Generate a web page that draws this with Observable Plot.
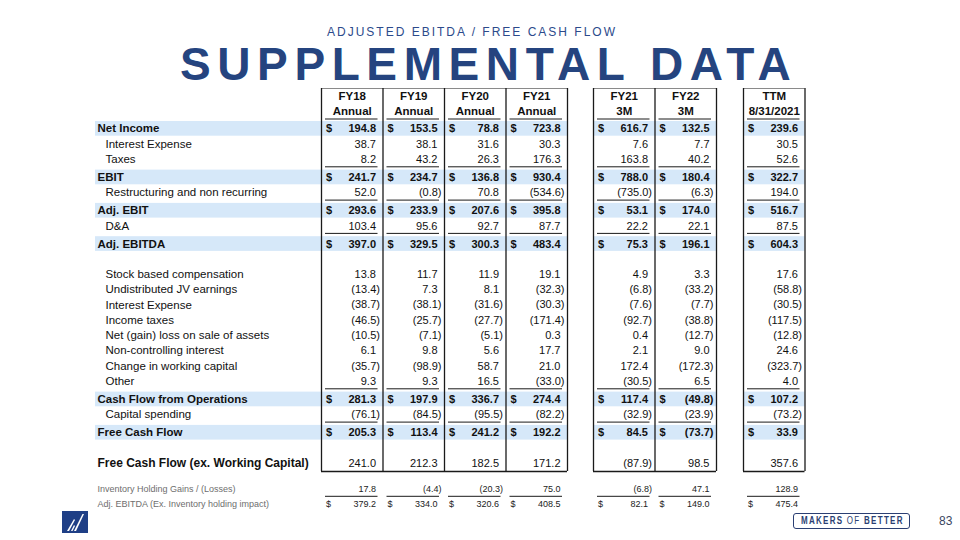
<!DOCTYPE html>
<html>
<head>
<meta charset="utf-8">
<script src="https://cdn.jsdelivr.net/npm/d3@7"></script>
<script src="https://cdn.jsdelivr.net/npm/@observablehq/plot@0.6"></script>
<style>
  html, body { margin: 0; padding: 0; background: #fff; }
  #page { position: relative; width: 960px; height: 540px; overflow: hidden; font-family: "Liberation Sans", Arial, sans-serif; }
  #head { position: relative; height: 86px; }
  .sub { position: absolute; left: 327px; top: 25.5px; font-size: 12px; line-height: 1; letter-spacing: 2px; color: #2b4a8b; white-space: nowrap; }
  .title { position: absolute; left: 180px; top: 41px; font-size: 46px; line-height: 1; font-weight: bold; letter-spacing: 6.6px; color: #25447f; white-space: nowrap; }
  #logo { position: absolute; left: 62px; top: 511px; }
  .makers { position: absolute; left: 793px; top: 512.5px; width: 115px; height: 14px; border: 1.5px solid #2b3f73; border-radius: 3px; color: #2b3f73; white-space: nowrap; overflow: hidden; }
  .makers span.t { position: absolute; left: 7px; top: 0; font-size: 10px; line-height: 14px; font-weight: bold; letter-spacing: 1.6px; transform: scaleX(0.8); transform-origin: 0 50%; }
  .makers .of { font-weight: normal; }
  .pageno { position: absolute; left: 939px; top: 515px; font-size: 12px; line-height: 1; color: #3a4660; }
</style>
</head>
<body>
<div id="page">
  <div id="head">
    <div class="sub">ADJUSTED EBITDA / FREE CASH FLOW</div>
    <div class="title">SUPPLEMENTAL DATA</div>
  </div>
  <div id="table"></div>
  <svg id="logo" width="26" height="22" viewBox="0 0 26 22">
    <rect width="26" height="22" fill="#1f3f86"/>
    <polygon points="5,20 7,20 13,9 12,8" fill="#fff"/>
    <polygon points="12,20 14,20 22,3 20.5,3" fill="#fff"/>
    <polygon points="9,20 10.5,20 13,15 12,14" fill="#fff"/>
  </svg>
  <div class="makers"><span class="t">MAKERS <span class="of">OF</span> BETTER</span></div>
  <div class="pageno">83</div>
</div>
<script>
// ---------- data ----------
const rowLabels = [
  "Net Income", "Interest Expense", "Taxes", "EBIT", "Restructuring and non recurring",
  "Adj. EBIT", "D&A", "Adj. EBITDA", "Stock based compensation", "Undistributed JV earnings",
  "Interest Expense", "Income taxes", "Net (gain) loss on sale of assets", "Non-controlling interest",
  "Change in working capital", "Other", "Cash Flow from Operations", "Capital spending",
  "Free Cash Flow", "Free Cash Flow (ex. Working Capital)",
  "Inventory Holding Gains / (Losses)", "Adj. EBITDA (Ex. Inventory holding impact)"
];
// row role: total (highlighted, $), item, itemRule (underlined), itemBreak (after blank line),
// key (after blank line, bold label), memo (small, underlined), memoTotal (small, $)
const rowTypes = [
  "total", "item", "itemRule", "total", "itemRule",
  "total", "itemRule", "total", "itemBreak", "item",
  "item", "item", "item", "item",
  "item", "itemRule", "total", "itemRule",
  "total", "key",
  "memo", "memoTotal"
];
const columnYear   = ["FY18", "FY19", "FY20", "FY21", "FY21", "FY22", "TTM"];
const columnPeriod = ["Annual", "Annual", "Annual", "Annual", "3M", "3M", "8/31/2021"];
const columnGroup  = [0, 0, 0, 0, 1, 1, 2];

const fy18   = [194.8, 38.7, 8.2, 241.7, 52.0, 293.6, 103.4, 397.0, 13.8, -13.4, -38.7, -46.5, -10.5, 6.1, -35.7, 9.3, 281.3, -76.1, 205.3, 241.0, 17.8, 379.2];
const fy19   = [153.5, 38.1, 43.2, 234.7, -0.8, 233.9, 95.6, 329.5, 11.7, 7.3, -38.1, -25.7, -7.1, 9.8, -98.9, 9.3, 197.9, -84.5, 113.4, 212.3, -4.4, 334.0];
const fy20   = [78.8, 31.6, 26.3, 136.8, 70.8, 207.6, 92.7, 300.3, 11.9, 8.1, -31.6, -27.7, -5.1, 5.6, 58.7, 16.5, 336.7, -95.5, 241.2, 182.5, -20.3, 320.6];
const fy21   = [723.8, 30.3, 176.3, 930.4, -534.6, 395.8, 87.7, 483.4, 19.1, -32.3, -30.3, -171.4, 0.3, 17.7, 21.0, -33.0, 274.4, -82.2, 192.2, 171.2, 75.0, 408.5];
const fy21q1 = [616.7, 7.6, 163.8, 788.0, -735.0, 53.1, 22.2, 75.3, 4.9, -6.8, -7.6, -92.7, 0.4, 2.1, 172.4, -30.5, 117.4, -32.9, 84.5, -87.9, -6.8, 82.1];
const fy22q1 = [132.5, 7.7, 40.2, 180.4, -6.3, 174.0, 22.1, 196.1, 3.3, -33.2, -7.7, -38.8, -12.7, 9.0, -172.3, 6.5, -49.8, -23.9, -73.7, 98.5, 47.1, 149.0];
const ttm    = [239.6, 30.5, 52.6, 322.7, 194.0, 516.7, 87.5, 604.3, 17.6, -58.8, -30.5, -117.5, -12.8, 24.6, -323.7, 4.0, 107.2, -73.2, 33.9, 357.6, 128.9, 475.4];
const series = [fy18, fy19, fy20, fy21, fy21q1, fy22q1, ttm];

// ---------- layout ----------
const L = {
  labelX: 97, indentX: 105, bandX: 95,
  groupX: [321, 593, 743], colW: 61.5,
  boxTop: 88, head1: 96, head2: 111, headRule: 118.5,
  firstRow: 128.3, pitch: 15.3, totalExtra: 2.7, breakExtra: 15, memoExtra: 10.8
};
const rowY = [];
rowTypes.forEach((t, i) => {
  let y = i === 0 ? L.firstRow : rowY[i - 1] + L.pitch;
  if (i > 0 && t === "total") y += L.totalExtra;
  if (t === "itemBreak" || t === "key") y += L.breakExtra;
  if (t === "memo") y += L.memoExtra;
  rowY.push(y);
});
const boxBottom = rowY[rowTypes.indexOf("key")] + 8.5;

const colLeft = columnGroup.map((g, i) => L.groupX[g] + (i - columnGroup.indexOf(g)) * L.colW);
const colRight = colLeft.map(x => x + L.colW);
const groups = [0, 1, 2];
const groupLeft = g => L.groupX[g];
const groupRight = g => colRight[columnGroup.lastIndexOf(g)];

const fmt = v => v < 0 ? `(${Math.abs(v).toFixed(1)})` : v.toFixed(1);

const rows = rowLabels.map((label, r) => ({label, r, type: rowTypes[r], y: rowY[r]}));
const cells = [];
rows.forEach(row => series.forEach((vals, c) => {
  const v = vals[row.r];
  cells.push({...row, c, v, text: fmt(v), left: colLeft[c], right: colRight[c]});
}));
const cols = columnYear.map((year, c) => ({c, year, period: columnPeriod[c], left: colLeft[c], right: colRight[c]}));

const isTotal = d => d.type === "total";
const isItem = d => d.type === "item" || d.type === "itemRule" || d.type === "itemBreak";
const isMemo = d => d.type === "memo" || d.type === "memoTotal";

// band segments
const bands = [];
rows.filter(isTotal).forEach(row => groups.forEach(g => bands.push({
  y1: row.y - 7.3, y2: row.y + 7.4, x1: g === 0 ? L.bandX : groupLeft(g), x2: groupRight(g)
})));
// vertical box lines
const vlines = [];
groups.forEach(g => {
  const idx = columnGroup.map((gg, i) => gg === g ? i : -1).filter(i => i >= 0);
  vlines.push({x: colLeft[idx[0]]});
  idx.forEach(i => vlines.push({x: colRight[i]}));
});
// underlines
const underlines = [];
cols.forEach(col => underlines.push({y: L.headRule, x1: col.left + 4, x2: col.right - 5}));
cells.filter(d => d.type === "itemRule" || d.type === "memo").forEach(d =>
  underlines.push({y: d.y + (d.type === "memo" ? 7.2 : 7.4), x1: d.left + 4, x2: d.right - 5}));

const numX = d => d.v < 0 ? d.right - 3 : d.right - 7;
const FONT = "'Liberation Sans', Arial, sans-serif";

const chart = Plot.plot({
  width: 960, height: 454, margin: 0,
  x: {type: "linear", domain: [0, 960], range: [0, 960], axis: null},
  y: {type: "linear", domain: [86, 540], range: [0, 454], axis: null},
  style: {fontFamily: FONT, background: "transparent", overflow: "visible"},
  marks: [
    Plot.rect(bands, {x1: "x1", x2: "x2", y1: "y1", y2: "y2", fill: "#d6e8f9"}),
    // box top / bottom
    Plot.ruleY(groups, {y: () => L.boxTop, x1: g => groupLeft(g), x2: g => groupRight(g), stroke: "#8a8a8a", strokeWidth: 1}),
    Plot.ruleY(groups, {y: () => boxBottom, x1: g => groupLeft(g), x2: g => groupRight(g), stroke: "#1a1a1a", strokeWidth: 1.3}),
    Plot.ruleX(vlines, {x: "x", y1: () => L.boxTop, y2: () => boxBottom, stroke: "#1a1a1a", strokeWidth: 1.3}),
    Plot.ruleY(underlines, {y: "y", x1: "x1", x2: "x2", stroke: "#1a1a1a", strokeWidth: 1}),
    // headers
    Plot.text(cols, {x: d => (d.left + d.right) / 2, y: () => L.head1, text: "year", fontWeight: "bold", fontSize: 11.5, fill: "#111"}),
    Plot.text(cols, {x: d => (d.left + d.right) / 2, y: () => L.head2, text: "period", fontWeight: "bold", fontSize: 11.5, fill: "#111"}),
    // row labels
    Plot.text(rows.filter(isTotal), {x: () => L.labelX, y: "y", text: "label", textAnchor: "start", fontWeight: "bold", fontSize: 11.5, fill: "#111"}),
    Plot.text(rows.filter(isItem), {x: () => L.indentX, y: "y", text: "label", textAnchor: "start", fontSize: 11.5, fill: "#111"}),
    Plot.text(rows.filter(d => d.type === "key"), {x: () => L.labelX, y: "y", text: "label", textAnchor: "start", fontWeight: "bold", fontSize: 12, fill: "#111"}),
    Plot.text(rows.filter(isMemo), {x: () => L.labelX, y: "y", text: "label", textAnchor: "start", fontSize: 9, fill: "#6e6e6e"}),
    // values
    Plot.text(cells.filter(isTotal), {x: numX, y: "y", text: "text", textAnchor: "end", fontWeight: "bold", fontSize: 11, fill: "#111"}),
    Plot.text(cells.filter(d => isItem(d) || d.type === "key"), {x: numX, y: "y", text: "text", textAnchor: "end", fontSize: 11, fill: "#111"}),
    Plot.text(cells.filter(isMemo), {x: numX, y: "y", text: "text", textAnchor: "end", fontSize: 9, fill: "#222"}),
    // dollar signs
    Plot.text(cells.filter(isTotal), {x: d => d.left + 4.5, y: "y", text: () => "$", textAnchor: "start", fontWeight: "bold", fontSize: 11, fill: "#111"}),
    Plot.text(cells.filter(d => d.type === "memoTotal"), {x: d => d.left + 4.5, y: "y", text: () => "$", textAnchor: "start", fontSize: 9, fill: "#222"})
  ]
});
document.getElementById("table").appendChild(chart);
</script>
</body>
</html>
